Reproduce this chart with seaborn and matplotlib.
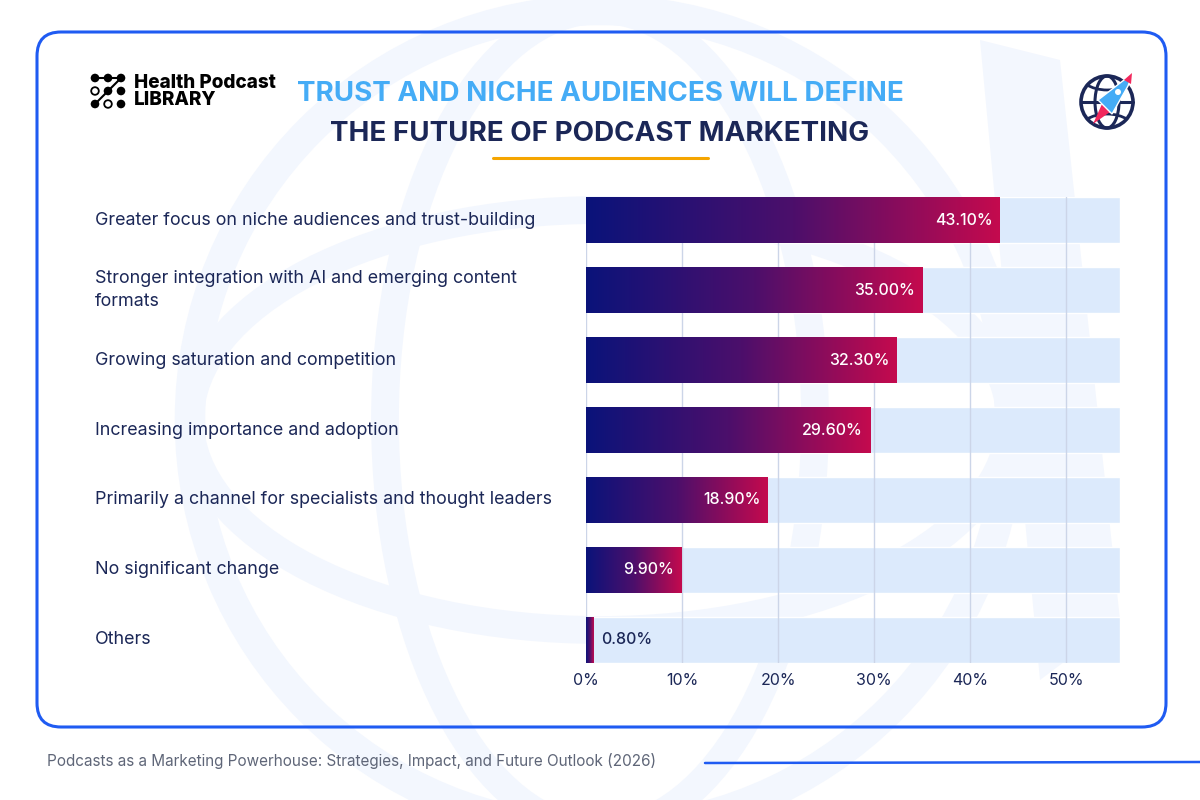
import numpy as np
import pandas as pd
import matplotlib
matplotlib.use("Agg")
import matplotlib.pyplot as plt
import seaborn as sns
from matplotlib.patches import FancyBboxPatch, Circle, Ellipse, Polygon, Arc
from matplotlib.lines import Line2D
from matplotlib.colors import LinearSegmentedColormap
from matplotlib.transforms import blended_transform_factory

categories = [
    "Greater focus on niche audiences and trust-building",
    "Stronger integration with AI and emerging content\nformats",
    "Growing saturation and competition",
    "Increasing importance and adoption",
    "Primarily a channel for specialists and thought leaders",
    "No significant change",
    "Others",
]
values = [43.1, 35.0, 32.3, 29.6, 18.9, 9.9, 0.8]
x_ticks = [0, 10, 20, 30, 40, 50]
x_max = 55.6

title_top = "TRUST AND NICHE AUDIENCES WILL DEFINE"
title_bottom = "THE FUTURE OF PODCAST MARKETING"
source = "Podcasts as a Marketing Powerhouse: Strategies, Impact, and Future Outlook (2026)"

NAVY = "#1B2757"
LIGHT_BLUE = "#45ACF6"
TRACK = "#DCEAFC"
FRAME = "#1F5BF2"
WATERMARK = "#F3F7FE"

sns.set_theme(style="white")
plt.rcParams["font.family"] = ["Inter", "DejaVu Sans"]

fig = plt.figure(figsize=(12, 8), dpi=100)
fig.patch.set_facecolor("white")

# background layer in pixel coordinates
bg = fig.add_axes([0, 0, 1, 1], zorder=-1)
bg.set_xlim(0, 1200)
bg.set_ylim(800, 0)
bg.axis("off")

# faint globe watermark
bg.add_patch(Circle((600, 420), 410, fill=False, lw=22, ec=WATERMARK))
bg.add_patch(Ellipse((600, 420), 430, 820, fill=False, lw=20, ec=WATERMARK))
bg.add_patch(Arc((600, 420), 820, 420, theta1=180, theta2=360, lw=20, ec=WATERMARK))
bg.add_patch(Arc((600, 420), 820, 420, theta1=0, theta2=180, lw=20, ec=WATERMARK))
bg.add_patch(Polygon([[980, 40], [1060, 60], [1120, 620], [1040, 680]], fc=WATERMARK, ec="none"))

# rounded frame
bg.add_patch(FancyBboxPatch((37, 32), 1129, 695, boxstyle="round,pad=0,rounding_size=24",
                            fill=False, ec=FRAME, lw=2.2))

# logo
dot_x = [95, 108, 121]
dot_y = [78, 91, 104]
hollow = [(0, 1), (1, 2)]
bg.plot([95, 121], [78, 78], color="black", lw=1.5)
bg.plot([95, 121], [104, 78], color="black", lw=1.5)
for r, yy in enumerate(dot_y):
    for c, xx in enumerate(dot_x):
        if (c, r) in hollow:
            bg.add_patch(Circle((xx, yy), 3.8, fc="white", ec="black", lw=1.3, zorder=3))
        else:
            bg.add_patch(Circle((xx, yy), 4.3, fc="black", ec="none", zorder=3))
bg.text(134, 83, "Health Podcast", fontsize=13.6, fontweight="heavy", color="black", va="center")
bg.text(134, 100, "LIBRARY", fontsize=13.6, fontweight="heavy", color="black", va="center")

# globe + rocket icon
gx, gy, gr = 1107, 102, 26
bg.add_patch(Circle((gx, gy), gr, fill=False, ec=NAVY, lw=2.6))
bg.add_patch(Ellipse((gx, gy), 24, 52, fill=False, ec=NAVY, lw=2.2))
bg.plot([gx - gr, gx + gr], [gy, gy], color=NAVY, lw=2.2)
bg.add_patch(Arc((gx, gy - 32), 60, 40, theta1=35, theta2=145, ec=NAVY, lw=2.0))
bg.add_patch(Arc((gx, gy + 32), 60, 40, theta1=215, theta2=325, ec=NAVY, lw=2.0))
bg.add_patch(Polygon([[1093, 124], [1102, 104], [1110, 112]], fc="#F2285C", ec="none", zorder=4))
bg.add_patch(Polygon([[1098, 100], [1124, 80], [1131, 78], [1128, 86], [1112, 114]],
                     fc=LIGHT_BLUE, ec="white", lw=1, zorder=5))
bg.add_patch(Polygon([[1124, 80], [1132, 73], [1131, 84]], fc="#F2285C", ec="none", zorder=6))
bg.add_patch(Circle((1118, 92), 3, fc="white", ec="none", zorder=7))

# titles
fig.text(0.5, 1 - 94 / 800, title_top, ha="center", va="center", fontsize=20,
         fontweight="bold", color=LIGHT_BLUE)
fig.text(0.5, 1 - 134 / 800, title_bottom, ha="center", va="center", fontsize=20,
         fontweight="bold", color=NAVY)
fig.add_artist(Line2D([493 / 1200, 708 / 1200], [1 - 158 / 800] * 2, color="#F5A500", lw=2.2))

# footer
fig.text(47 / 1200, 1 - 761 / 800, source, ha="left", va="center", fontsize=11, color="#5F6678")
fig.add_artist(Line2D([705 / 1200, 1.0], [1 - 763 / 800, 1 - 762 / 800], color=FRAME, lw=1.8))

# main chart: axes spans from top of first bar to bottom of last bar
ax = fig.add_axes([586 / 1200, 1 - 663 / 800, (1120 - 586) / 1200, (663 - 197) / 800])
ax.patch.set_alpha(0)

df = pd.DataFrame({"category": categories, "value": values})
sns.barplot(x=np.full(len(categories), x_max), y=categories, order=categories, color=TRACK,
            width=0.66, saturation=1, ax=ax, zorder=1)
sns.barplot(data=df, x="value", y="category", order=categories, color="#5A1166",
            width=0.66, saturation=1, ax=ax, zorder=2)

cmap = LinearSegmentedColormap.from_list("bar", ["#0A137A", "#4C0F6B", "#C40A4E"])
gradient = np.linspace(0, 1, 256).reshape(1, -1)
for patch in ax.patches[len(categories):]:
    x0, y0 = patch.get_x(), patch.get_y()
    w, h = patch.get_width(), patch.get_height()
    img = ax.imshow(gradient, extent=[x0, x0 + w, y0 + h, y0], cmap=cmap, aspect="auto",
                    zorder=2.5, interpolation="bicubic")
    img.set_clip_path(patch)
    patch.set_facecolor("none")
    patch.set_edgecolor("none")

ax.set_xlim(0, x_max)
ax.set_ylim(len(categories) - 1 + 0.33, -0.33)
ax.set_axisbelow("line")
ax.grid(axis="x", color="#CCD5E8", lw=1)
ax.grid(axis="y", visible=False)
ax.set_xticks(x_ticks)
ax.set_xticklabels([f"{t}%" for t in x_ticks], fontsize=11.5, color=NAVY)
ax.tick_params(axis="x", length=0, pad=7)
ax.set_yticks([])
ax.set_xlabel("")
ax.set_ylabel("")
for s in ax.spines.values():
    s.set_visible(False)

# value labels
for i, v in enumerate(values):
    if v > 3:
        ax.text(v - 0.75, i, f"{v:.2f}%", ha="right", va="center", fontsize=11.5,
                fontweight="medium", color="white", zorder=5)
    else:
        ax.text(v + 0.75, i, f"{v:.2f}%", ha="left", va="center", fontsize=11.5,
                fontweight="medium", color=NAVY, zorder=5)

# category labels, left aligned
lab_tr = blended_transform_factory(fig.transFigure, ax.transData)
for i, cat in enumerate(categories):
    ax.text(95 / 1200, i, cat, transform=lab_tr, ha="left", va="center", fontsize=12.9,
            color=NAVY, linespacing=1.45, clip_on=False)

fig.savefig("out.png", dpi=100, facecolor="white")
